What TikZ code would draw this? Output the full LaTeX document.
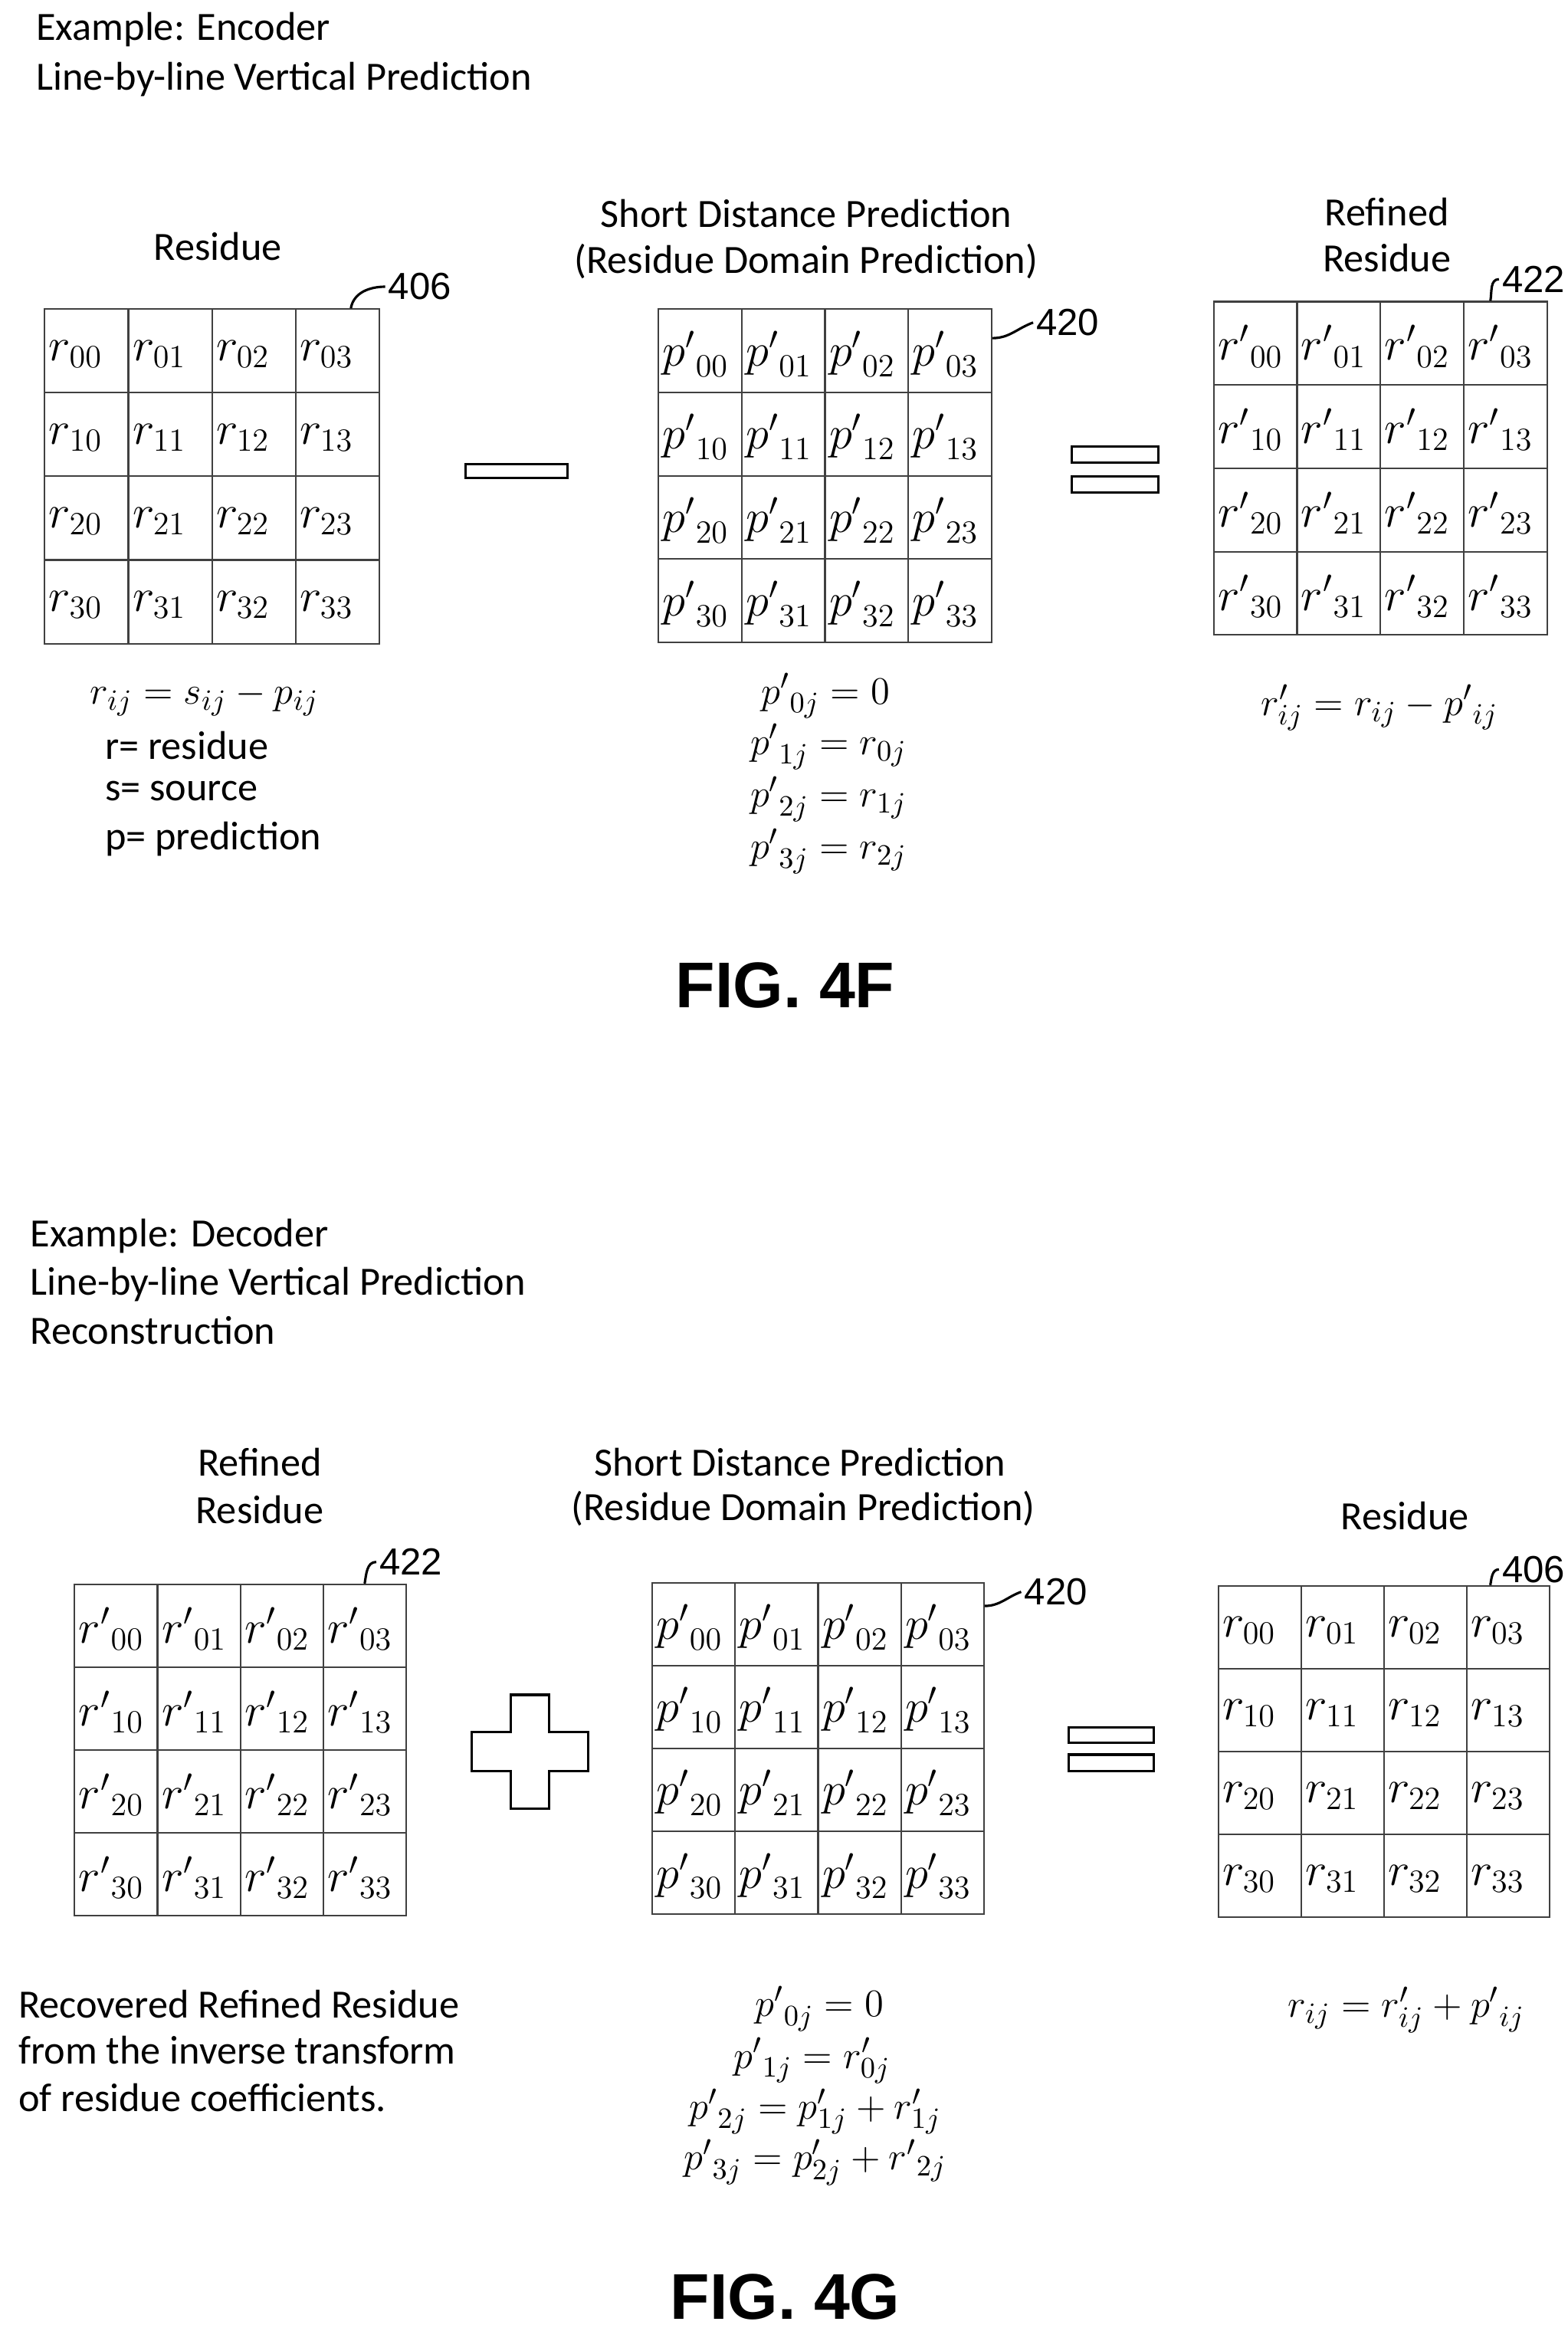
\documentclass[tikz,border=0pt]{standalone}
\usepackage{fontspec}
\setmainfont{Carlito}
\setsansfont{Liberation Sans}
\usetikzlibrary{calc}
\begin{document}
\begin{tikzpicture}[x=0.0195cm,y=-0.0195cm,
  txt/.style={font=\fontsize{14.9}{17}\selectfont, inner sep=0pt},
  lbl/.style={font=\sffamily\fontsize{14}{16}\selectfont, inner sep=1pt},
  mth/.style={font=\fontsize{17}{20}\selectfont, inner sep=0pt},
  frm/.style={font=\fontsize{15.5}{18}\selectfont, inner sep=0pt},
  cell/.style={draw=black!75, line width=0.6pt, inner sep=0pt},
  fig/.style={font=\sffamily\bfseries\fontsize{24}{28}\selectfont},
  op/.style={draw=black, line width=0.9pt, fill=white},
  lead/.style={line width=0.9pt}]
\useasboundingbox (0,0) rectangle (1050,1559);
\newcommand\mkgrid[5]{%
\foreach \i in {0,...,3}{\foreach \j in {0,...,3}{
 \node[cell, minimum size=#4*0.0195cm] (#1\i\j) at ({#2+(\j+0.5)*#4},{#3+(\i+0.5)*#4}) {};
 \node[mth, anchor=west] (#1t\i\j) at ($(#1\i\j.west)+(3,2)$) {$#5_{\i\j}$};
}}}
% ---------- FIG 4F ----------
\node[txt, anchor=west] (e1) at (24,20) {Example: Encoder};
\node[txt, anchor=west] (e2) at (24,53) {Line-by-line Vertical Prediction};
\mkgrid{a}{30}{207}{56}{r}
\mkgrid{b}{441}{207}{55.8}{{p'}}
\mkgrid{c}{813}{202}{55.8}{{r'}}
\node[txt] (ta) at (146,165) {Residue};
\node[txt] (tb1) at (540,143) {Short Distance Prediction};
\node[txt] (tb2) at (540,175) {(Residue Domain Prediction)};
\node[txt] (tc1) at (929,142) {Refined};
\node[txt] (tc2) at (929,173) {Residue};
\node[lbl, anchor=west] (l406a) at (258,192) {406};
\draw[lead] ($(a03.north)+(9,0)$) to[out=80,in=180] (l406a.west);
\node[lbl, anchor=west] (l420a) at (692,216) {420};
\draw[lead] ($(b03.north east)+(0,20)$) to[out=0,in=200] (l420a.west);
\node[lbl, anchor=west] (l422a) at (1004,187) {422};
\draw[lead] ($(c03.north)+(-10,0)$) to[out=80,in=180] (l422a.west);
\node[op, minimum width=68*0.0195cm, minimum height=9*0.0195cm, inner sep=0pt] (minus) at (346,315.5) {};
\node[op, minimum width=58*0.0195cm, minimum height=11*0.0195cm, inner sep=0pt] (eq1) at (747,304.5) {};
\node[op, minimum width=58*0.0195cm, minimum height=11*0.0195cm, inner sep=0pt] (eq2) at (747,324.5) {};
\node[frm] (fa) at (137,468) {$r_{ij}=s_{ij}-p_{ij}$};
\node[txt, anchor=west] (fa2) at (70,499) {r= residue};
\node[txt, anchor=west] (fa3) at (70,530) {s= source};
\node[txt, anchor=west] (fa4) at (70,562) {p= prediction};
\node[frm] (fb1) at (553,466) {${p'}_{0j}=0$};
\node[frm] (fb2) at (555,500) {${p'}_{1j}=r_{0j}$};
\node[frm] (fb3) at (555,535) {${p'}_{2j}=r_{1j}$};
\node[frm] (fb4) at (555,570) {${p'}_{3j}=r_{2j}$};
\node[frm] (fc) at (924,474) {$r'_{ij}=r_{ij}-{p'}_{ij}$};
\node[fig] (f4f) at (526,660) {FIG. 4F};
% ---------- FIG 4G ----------
\node[txt, anchor=west] (d1) at (20,828) {Example: Decoder};
\node[txt, anchor=west] (d2) at (20,860) {Line-by-line Vertical Prediction};
\node[txt, anchor=west] (d3) at (20,891) {Reconstruction};
\mkgrid{d}{50}{1061}{55.5}{{r'}}
\mkgrid{e}{437}{1060}{55.5}{{p'}}
\mkgrid{f}{816}{1062}{55.5}{r}
\node[txt] (td1) at (174,979) {Refined};
\node[txt] (td2) at (174,1011) {Residue};
\node[txt] (te1) at (536,979) {Short Distance Prediction};
\node[txt] (te2) at (538,1010) {(Residue Domain Prediction)};
\node[txt] (tf) at (941,1015) {Residue};
\node[lbl, anchor=west] (l422b) at (252,1046) {422};
\draw[lead] ($(d03.north)+(0,0)$) to[out=80,in=180] (l422b.west);
\node[lbl, anchor=west] (l420b) at (684,1066) {420};
\draw[lead] ($(e03.north east)+(0,16)$) to[out=0,in=200] (l420b.west);
\node[lbl, anchor=west] (l406b) at (1004,1051) {406};
\draw[lead] ($(f03.north)+(-12,0)$) to[out=80,in=180] (l406b.west);
\coordinate (pc) at (355,1173);
\draw[op] ($(pc)+(-13,-38)$) -- ($(pc)+(13,-38)$) -- ($(pc)+(13,-13)$) -- ($(pc)+(39,-13)$) -- ($(pc)+(39,13)$) -- ($(pc)+(13,13)$) -- ($(pc)+(13,38)$) -- ($(pc)+(-13,38)$) -- ($(pc)+(-13,13)$) -- ($(pc)+(-39,13)$) -- ($(pc)+(-39,-13)$) -- ($(pc)+(-13,-13)$) -- cycle;
\node[op, minimum width=57*0.0195cm, minimum height=10*0.0195cm, inner sep=0pt] (eq3) at (744.5,1162) {};
\node[op, minimum width=57*0.0195cm, minimum height=11*0.0195cm, inner sep=0pt] (eq4) at (744.5,1180.5) {};
\node[txt, anchor=west] (g1) at (12,1342) {Recovered Refined Residue};
\node[txt, anchor=west] (g2) at (12,1373) {from the inverse transform};
\node[txt, anchor=west] (g3) at (12,1405) {of residue coefficients.};
\node[frm] (ge1) at (549,1345) {${p'}_{0j}=0$};
\node[frm] (ge2) at (544,1380) {${p'}_{1j}=r'_{0j}$};
\node[frm] (ge3) at (546,1414) {${p'}_{2j}=p'_{1j}+r'_{1j}$};
\node[frm] (ge4) at (546,1448) {${p'}_{3j}=p'_{2j}+{r'}_{2j}$};
\node[frm] (gf) at (942,1346) {$r_{ij}=r'_{ij}+{p'}_{ij}$};
\node[fig] (f4g) at (526,1538) {FIG. 4G};
\end{tikzpicture}
\end{document}
